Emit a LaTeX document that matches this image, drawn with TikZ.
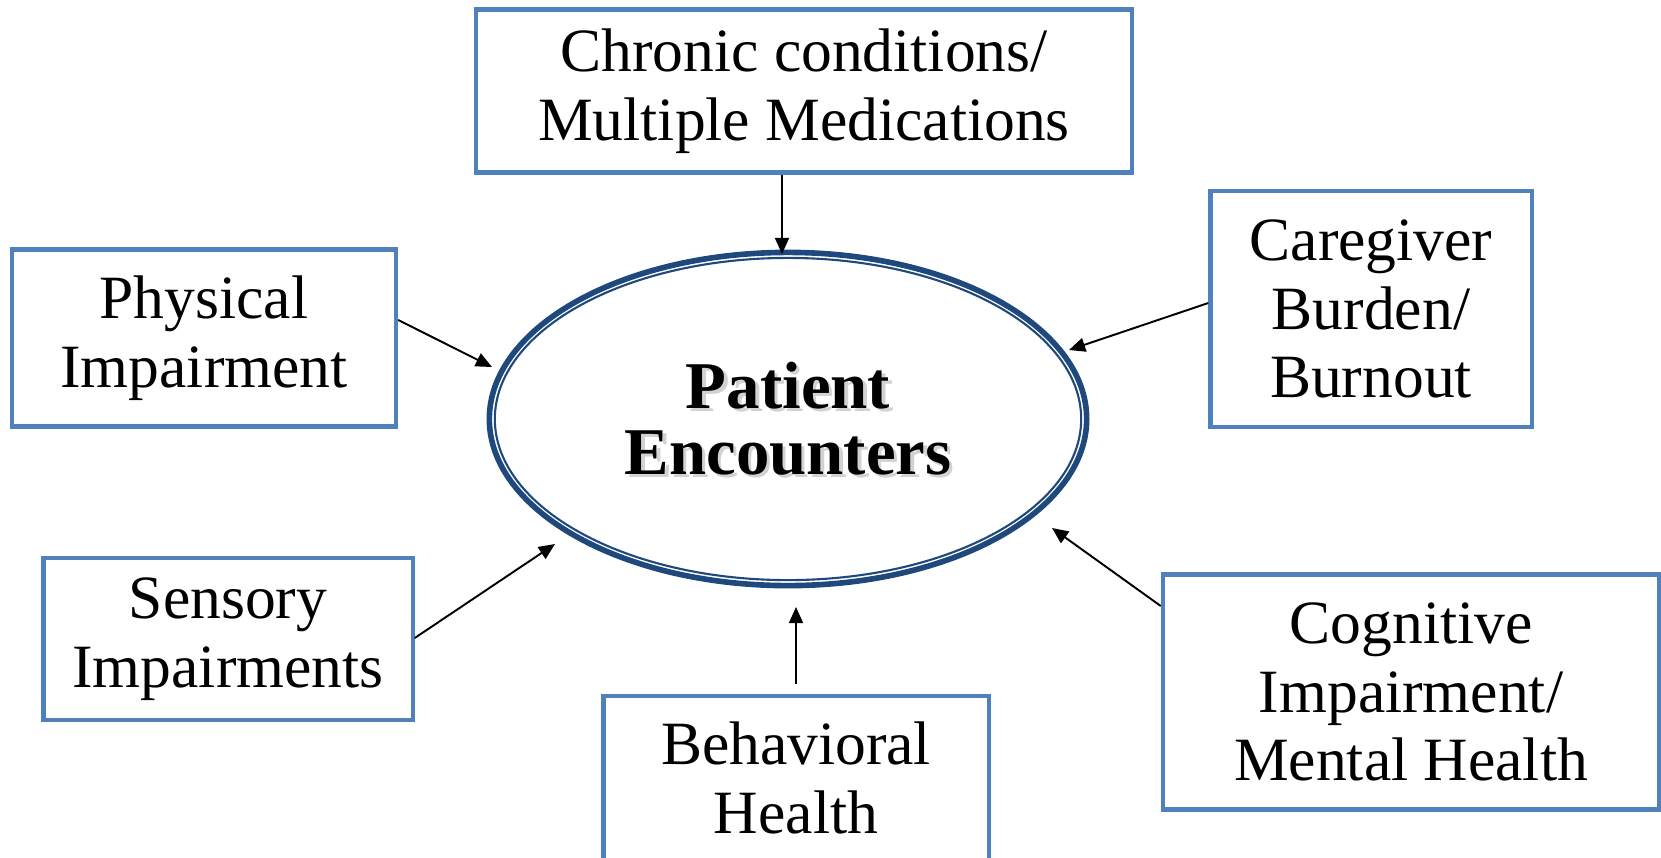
\documentclass[tikz,border=0pt]{standalone}
\usepackage{fontspec}
\setmainfont{Liberation Serif}
\usetikzlibrary{arrows.meta,shapes.geometric}
\definecolor{boxblue}{RGB}{79,129,189}
\definecolor{ringblue}{RGB}{31,73,125}
\begin{document}
\begin{tikzpicture}[x=0.01cm, y=-0.01cm,
  factor/.style = {draw=boxblue, line width=1.2pt, align=center, inner sep=0pt, font=\fontsize{17.5}{19.5}\selectfont},
  hub/.style = {draw=ringblue, ellipse, line width=1.6pt, minimum width=5.97cm, minimum height=3.33cm, inner sep=0pt, align=center, font=\fontsize{19}{18.8}\selectfont\bfseries},
  link/.style = {-{Triangle[length=4.6pt,width=4pt]}, line width=0.55pt}]
	\useasboundingbox (0,0) rectangle (1661,857);
	\node[factor, minimum width=6.56cm, minimum height=1.63cm] (chronic) at (804,91) {Chronic conditions/\\Multiple Medications};
	\node[factor, minimum width=3.84cm, minimum height=1.77cm] (physical) at (204,338) {Physical\\Impairment};
	\node[factor, minimum width=3.21cm, minimum height=2.36cm] (caregiver) at (1371,309) {Caregiver\\Burden/\\Burnout};
	\node[factor, minimum width=3.69cm, minimum height=1.62cm] (sensory) at (228,639) {Sensory\\Impairments};
	\node[factor, minimum width=3.85cm, minimum height=1.64cm] (behavioral) at (796,778) {Behavioral\\Health};
	\node[factor, minimum width=4.96cm, minimum height=2.35cm] (cognitive) at (1411,692) {Cognitive\\Impairment/\\Mental Health};
	% title with its soft shadow
	\node[text=gray!35, font=\fontsize{19}{18.8}\selectfont\bfseries, align=center] (shadow) at (791.5,421.5) {Patient\\Encounters};
	\node[hub] (pe) at (788,419) {Patient\\Encounters};
	\draw[ringblue, line width=0.6pt] (pe.center) ellipse [x radius=2.93cm, y radius=1.61cm];
	% arrow tips
	\coordinate (tc) at (782,254);
	\coordinate (tp) at (492,367);
	\coordinate (tg) at (1069,350);
	\coordinate (ts) at (555,544);
	\coordinate (tb) at (796,607);
	\coordinate (tm) at (1052,528);
	\draw[link] (chronic.south -| tc) -- (tc);
	\draw[link] (physical.east |- 0,320) -- (tp);
	\draw[link] (caregiver.west |- 0,303) -- (tg);
	\draw[link] (sensory.east |- 0,638) -- (ts);
	\draw[link] ([yshift=0.1cm]behavioral.north -| tb) -- (tb);
	\draw[link] (cognitive.west |- 0,606) -- (tm);
\end{tikzpicture}
\end{document}
